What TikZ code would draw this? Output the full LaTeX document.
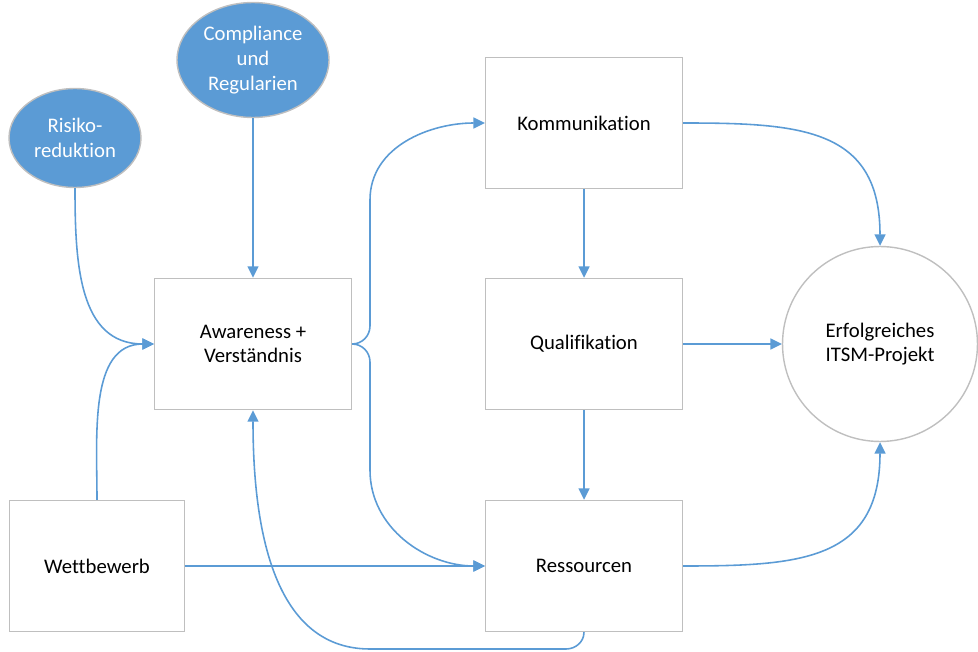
\documentclass[tikz,border=0pt]{standalone}
\usepackage{fontspec}
\setmainfont[Ligatures=NoCommon]{Carlito}
\usetikzlibrary{arrows,arrows.meta,shapes.geometric}

\definecolor{officeblue}{HTML}{5B9BD5}
\definecolor{boxgray}{HTML}{BFBFBF}

\begin{document}
\begin{tikzpicture}[x=0.02cm,y=0.02cm,
box/.style={draw=boxgray,line width=0.8pt,minimum width=3.94cm,minimum height=2.62cm,align=center,font=\fontsize{11.8}{14}\selectfont},
oval/.style={ellipse,draw=boxgray,line width=0.8pt,fill=officeblue,text=white,inner sep=0pt,align=center,font=\fontsize{11.8}{14}\selectfont},
goalnode/.style={circle,draw=boxgray,line width=0.8pt,minimum size=3.9cm,align=center,font=\fontsize{11.8}{14}\selectfont},
arrow/.style={-{Triangle[length=2.3mm,width=2.2mm]},draw=officeblue,line width=0.9pt} ]

\useasboundingbox (0,0) rectangle (978,-652);

\node[oval,minimum width=2.64cm,minimum height=1.98cm](risk) at (75,-138) {Risiko-\\reduktion};

\node[oval,minimum width=3.04cm,minimum height=2.3cm](comp) at (253,-60) {Compliance\\und\\Regularien};

\node[box](aware) at (253,-344) {Awareness +\\Verständnis};

\node[box](komm) at (584,-123) {Kommunikation};

\node[box](qual) at (584,-344) {Qualifikation};

\node[box](ress) at (584,-566) {Ressourcen};

\node[box,minimum width=3.5cm](wett) at (97,-566) {Wettbewerb};

\node[goalnode](goal) at (880,-344) {Erfolgreiches\\ITSM-Projekt};

\draw[arrow] (risk.south) to[out=-90,in=180,looseness=1.1] (aware.west);

\draw[arrow] (wett.north) to[out=90,in=180] (aware.west);

\draw[arrow] (comp) -- (aware);

\draw[arrow] (aware.east) to[out=0,in=-90] (370,-326) -- (370,-200) to[out=90,in=180] (komm.west);

\draw[arrow] (aware.east) to[out=0,in=90] (370,-362) -- (370,-470) to[out=-90,in=180] (ress.west);

\draw[arrow] (wett.east) -- (ress.west);

\draw[arrow] (ress.south) to[out=-90,in=0] (566,-649) -- (370,-649) .. controls (270,-649) and (253,-520) .. (aware.south);

\draw[arrow] (komm) -- (qual);

\draw[arrow] (qual) -- (ress);

\draw[arrow] (qual) -- (goal);

\draw[arrow] (komm.east) to[out=0,in=90,looseness=1.3] (goal.north);

\draw[arrow] (ress.east) to[out=0,in=-90,looseness=1.3] (goal.south);
\end{tikzpicture}
\end{document}
